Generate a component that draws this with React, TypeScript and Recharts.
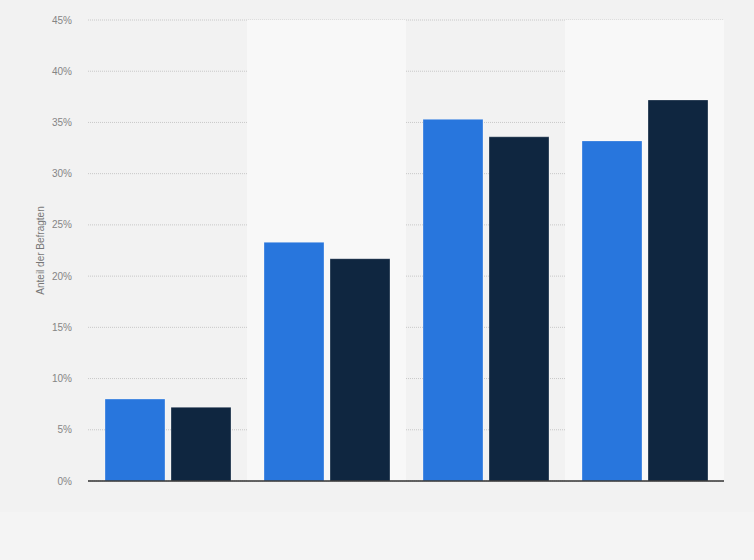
import React from "react";
import { BarChart, Bar, XAxis, YAxis, CartesianGrid, ReferenceArea, Label } from "recharts";

const categories = ["1", "2", "3", "4"];
const seriesA = [8.0, 23.3, 35.3, 33.2];
const seriesB = [7.2, 21.7, 33.6, 37.2];
const yTicks = [0, 5, 10, 15, 20, 25, 30, 35, 40, 45];
const shadedCategories = ["2", "4"];

const data = categories.map((c, i) => ({ name: c, a: seriesA[i], b: seriesB[i] }));

export default function App() {
  return (
    <div style={{ position: "absolute", left: 0, top: 0, width: 754, height: 560, background: "#f4f4f4", fontFamily: "'Liberation Sans', Arial, sans-serif" }}>
      <div style={{ position: "absolute", left: 0, top: 0, width: 754, height: 512, background: "#f2f2f2" }} />
      <div style={{ position: "absolute", left: 0, top: 0 }}>
        <BarChart width={754} height={560} data={data} margin={{ top: 20, right: 30, bottom: 49, left: 0 }} barGap={6} barSize={60}>
          {shadedCategories.map((c) => (
            <ReferenceArea key={c} x1={c} x2={c} y1={0} y2={45} fill="#f8f8f8" fillOpacity={1} stroke="none" ifOverflow="extendDomain" />
          ))}
          <CartesianGrid vertical={false} stroke="#c8c8c8" strokeDasharray="1 1" />
          <XAxis dataKey="name" tick={false} tickLine={false} axisLine={{ stroke: "#333333", strokeWidth: 1.3 }} />
          <YAxis
            width={88}
            domain={[0, 45]}
            ticks={yTicks}
            tickFormatter={(v) => `${v}%`}
            axisLine={false}
            tickLine={false}
            tickSize={0}
            tickMargin={16}
            tick={{ fill: "#858585", fontSize: 10 }}
          >
            <Label value="Anteil der Befragten" angle={-90} position="center" dx={-4} style={{ fill: "#777777", fontSize: 10 }} />
          </YAxis>
          <Bar dataKey="a" fill="#2876dd" stroke="rgba(255,255,255,0.3)" strokeWidth={1} isAnimationActive={false} />
          <Bar dataKey="b" fill="#0f2640" stroke="rgba(255,255,255,0.3)" strokeWidth={1} isAnimationActive={false} />
        </BarChart>
      </div>
    </div>
  );
}
